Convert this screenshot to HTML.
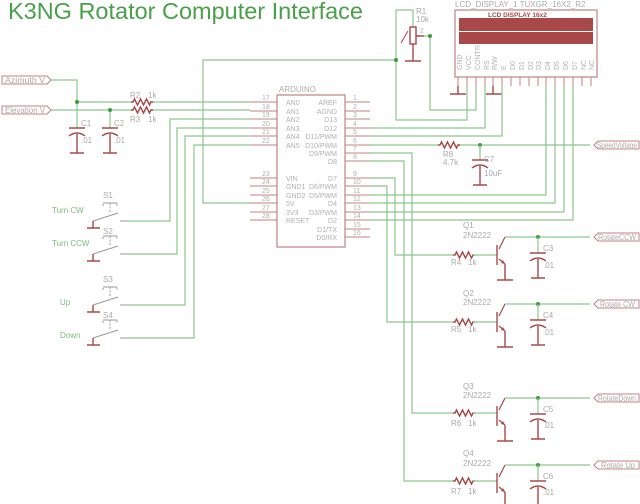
<!DOCTYPE html>
<html><head><meta charset="utf-8"><style>
html,body{margin:0;padding:0;background:#fff;width:640px;height:504px;overflow:hidden}
svg{display:block}
text{font-family:"Liberation Sans",sans-serif}
.w{stroke:#8cc68c;stroke-width:1.2;fill:none}
.r{stroke:#a84848;stroke-width:1.4;fill:none}
.g{fill:#aaaaaa;font-size:8px}
.gl{fill:#b0b0b0;font-size:7px}
.lab{fill:#7cba7c;font-size:8px}
.d{fill:#3c9a3c}
.sw{stroke:#999;stroke-width:1;fill:none}
</style></head><body>
<svg width="640" height="504" viewBox="0 0 640 504" xmlns="http://www.w3.org/2000/svg">
<defs>
<path id="res" d="M0,0 h2 l1.5,-3 l3,6 l3,-6 l3,6 l3,-6 l3,6 l1.5,-3 h2" class="r"/>
<g id="cap"><path class="r" d="M-8,0 h16 M-8,8 q8,-6 16,0 M0,6 v19 M-7,25 h14"/></g>
<g id="tr"><path class="r" d="M0,-10 v20"/><path d="M2,-6 L8,-18 M2,4 L8,9" stroke="#a84848" stroke-width="1.2"/><path d="M8,9 l-4,-1 l2,-3z" fill="#a84848"/><path class="r" d="M8,9 v16 M0,25 h16"/></g>
<g id="sw"><path class="sw" d="M-7,-15 v-3 h14 v3 M0,-18 v10" stroke-dasharray="2,1.5"/><path class="sw" d="M-7,-18 h14"/><path class="sw" d="M-17,0 l25,-8 M10,0 h7"/><path class="r" d="M-17,0 v7 M-23,7 h13"/></g>
</defs>
<text x="8" y="19" font-size="23" fill="#4aa04a" textLength="355" lengthAdjust="spacingAndGlyphs">K3NG Rotator Computer Interface</text>

<!-- Azimuth / Elevation -->
<path d="M2,76 h45 l4,4 l-4,4 h-45z" fill="#fff" stroke="#c08080" stroke-width="1"/>
<text x="5" y="83" class="g" textLength="40" lengthAdjust="spacingAndGlyphs">Azimuth V</text>
<path d="M2,106 h45 l4,4 l-4,4 h-45z" fill="#fff" stroke="#c08080" stroke-width="1"/>
<text x="5" y="113" class="g" textLength="40" lengthAdjust="spacingAndGlyphs">Elevation V</text>
<path class="w" d="M51,80 h26 v22 h56 M150,102 h100 M51,110 h82 M150,110 h100 M77,102 v26 M110,110 v18"/>
<circle cx="77" cy="102" r="2" class="d"/><circle cx="110" cy="110" r="2" class="d"/>
<use href="#res" x="131" y="102"/><use href="#res" x="131" y="110"/>
<text x="130" y="98" class="g">R2</text><text x="148" y="98" class="g">1k</text>
<text x="130" y="122" class="g">R3</text><text x="148" y="122" class="g">1k</text>
<use href="#cap" x="77" y="128"/><use href="#cap" x="110" y="128"/>
<text x="81" y="126" class="g">C1</text><text x="81" y="143" class="g">.01</text>
<text x="114" y="126" class="g">C2</text><text x="114" y="143" class="g">.01</text>

<!-- switches -->
<path class="w" d="M127,221 h43 v-102 h80 M127,254 h50 v-126 h73 M127,305 h58 v-169 h65 M127,338 h67 v-193 h56"/>
<use href="#sw" x="110" y="221"/><use href="#sw" x="110" y="254"/><use href="#sw" x="110" y="305"/><use href="#sw" x="110" y="338"/>
<text x="103" y="198" class="g">S1</text><text x="103" y="234" class="g">S2</text><text x="103" y="282" class="g">S3</text><text x="103" y="318" class="g">S4</text>
<text x="52" y="213" class="lab">Turn CW</text><text x="52" y="246" class="lab">Turn CCW</text>
<text x="60" y="305" class="lab">Up</text><text x="60" y="338" class="lab">Down</text>

<!-- 5V wire -->
<path class="w" d="M250,203 h-47 v-143 h193 v-50 h17 v17 M396,60 v60 h71 v-34"/>
<circle cx="396" cy="60" r="2" class="d"/>
<!-- pot -->
<rect x="410" y="27" width="6" height="17" class="r"/>
<path class="r" d="M413,44 v17 M405,61 h16 M416,36 h8"/>
<path d="M401,43 l7,-12" stroke="#a84848" stroke-width="1"/>
<text x="416" y="14" class="g">R1</text><text x="416" y="22" class="g">10k</text>
<text x="420" y="33" class="gl">2</text>
<path class="w" d="M424,36 h6 v74 h46 v-24"/><circle cx="430" cy="36" r="2" class="d"/>

<!-- Arduino -->
<rect x="277" y="95" width="68" height="152" fill="none" stroke="#c08080" stroke-width="1.2"/>
<text x="279" y="92" class="g">ARDUINO</text>
<g stroke="#c08080" stroke-width="1">
<path d="M250,102h27M250,111h27M250,119h27M250,128h27M250,136h27M250,145h27M250,178h27M250,186h27M250,195h27M250,203h27M250,212h27M250,220h27"/>
<path d="M345,102h25M345,111h25M345,119h25M345,128h25M345,136h25M345,145h25M345,153h25M345,161h25M345,178h25M345,186h25M345,195h25M345,203h25M345,212h25M345,220h25M345,229h25M345,237h25"/>
</g>
<g class="gl">
<text x="262" y="100">17</text><text x="262" y="109">18</text><text x="262" y="117">19</text><text x="262" y="126">20</text><text x="262" y="134">21</text><text x="262" y="143">22</text>
<text x="262" y="176">23</text><text x="262" y="184">24</text><text x="262" y="193">25</text><text x="262" y="201">26</text><text x="262" y="210">27</text><text x="262" y="218">28</text>
<text x="353" y="100">1</text><text x="353" y="109">2</text><text x="353" y="117">3</text><text x="353" y="126">4</text><text x="353" y="134">5</text><text x="353" y="143">6</text><text x="353" y="151">7</text><text x="353" y="159">8</text>
<text x="353" y="176">9</text><text x="353" y="184">10</text><text x="353" y="193">11</text><text x="353" y="201">12</text><text x="353" y="210">13</text><text x="353" y="218">14</text><text x="353" y="227">15</text><text x="353" y="235">16</text>
</g>
<g class="gl">
<text x="286" y="105">AN0</text><text x="286" y="114">AN1</text><text x="286" y="122">AN2</text><text x="286" y="131">AN3</text><text x="286" y="139">AN4</text><text x="286" y="148">AN5</text>
<text x="286" y="181">VIN</text><text x="286" y="189">GND1</text><text x="286" y="198">GND2</text><text x="286" y="206">5V</text><text x="286" y="215">3V3</text><text x="286" y="223">RESET</text>
</g>
<g class="gl" text-anchor="end">
<text x="337" y="105">AREF</text><text x="337" y="114">AGND</text><text x="337" y="122">D13</text><text x="337" y="131">D12</text><text x="337" y="139">D11/PWM</text><text x="337" y="148">D10/PWM</text><text x="337" y="156">D9/PWM</text><text x="337" y="164">D8</text>
<text x="337" y="181">D7</text><text x="337" y="189">D6/PWM</text><text x="337" y="198">D5/PWM</text><text x="337" y="206">D4</text><text x="337" y="215">D3/PWM</text><text x="337" y="223">D2</text><text x="337" y="232">D1/TX</text><text x="337" y="240">D0/RX</text>
</g>

<!-- LCD -->
<text x="455" y="7" class="g">LCD_DISPLAY_1 TUXGR_16X2_R2</text>
<rect x="455" y="10" width="142" height="67" fill="none" stroke="#c08080" stroke-width="1.2"/>
<text x="488" y="17" font-size="6.5" fill="#a84848" font-weight="bold">LCD DISPLAY 16x2</text>
<rect x="459" y="18" width="134" height="13" fill="#a84848"/>
<rect x="459" y="32" width="134" height="12" fill="#a84848"/>
<g class="gl" font-size="6">
<text transform="translate(462,70) rotate(-90)">GND</text><text transform="translate(471,70) rotate(-90)">VCC</text><text transform="translate(480,70) rotate(-90)">CONTR</text><text transform="translate(489,70) rotate(-90)">RS</text><text transform="translate(497,70) rotate(-90)">R/W</text><text transform="translate(506,70) rotate(-90)">E</text><text transform="translate(515,70) rotate(-90)">D0</text><text transform="translate(524,70) rotate(-90)">D1</text><text transform="translate(533,70) rotate(-90)">D2</text><text transform="translate(541,70) rotate(-90)">D3</text><text transform="translate(550,70) rotate(-90)">D4</text><text transform="translate(559,70) rotate(-90)">D5</text><text transform="translate(568,70) rotate(-90)">D6</text><text transform="translate(577,70) rotate(-90)">D7</text><text transform="translate(586,70) rotate(-90)">NC</text><text transform="translate(594,70) rotate(-90)">NC</text>
</g>
<g stroke="#c08080" stroke-width="1"><path d="M458,77v9M467,77v9M476,77v9M485,77v9M493,77v9M502,77v9M511,77v9M520,77v9M529,77v9M538,77v9M546,77v9M555,77v9M564,77v9M573,77v9M582,77v9M591,77v9"/></g>
<path class="r" d="M458,86v8 M450,94h16 M493,86v8 M486,94h16"/>
<path class="w" d="M485,86 v42 h-115 M502,86 v50 h-132 M546,86 v109 h-176 M555,86 v117 h-185 M564,86 v126 h-194 M573,86 v134 h-203"/>

<!-- speed voltage -->
<path class="w" d="M370,145 h68 M458,145 h132"/>
<use href="#res" x="438" y="145"/>
<circle cx="480" cy="145" r="2" class="d"/>
<path class="w" d="M480,145 v15"/>
<use href="#cap" x="480" y="160"/>
<text x="443" y="157" class="g">R8</text><text x="443" y="165" class="g">4.7k</text>
<text x="484" y="162" class="g">C7</text><text x="484" y="176" class="g">10uF</text>
<path d="M594,145 l4,-4 h41 v8 h-41z" fill="#fff" stroke="#c08080" stroke-width="1"/>
<text x="597" y="148" class="g" textLength="40" lengthAdjust="spacingAndGlyphs">SpeedVoltage</text>

<!-- transistor drive wires -->
<path class="w" d="M370,178 h25 v77 h58 M370,186 h17 v136 h66 M370,153 h42 v260 h41 M370,161 h34 v320 h49"/>

<!-- Q1..Q4 -->
<g>
<use href="#res" x="453" y="255"/><path class="w" d="M473,255h24"/><use href="#tr" x="497" y="255"/>
<path class="w" d="M505,237 h85"/><circle cx="538" cy="237" r="2" class="d"/><path class="w" d="M538,237v16"/><use href="#cap" x="538" y="253"/>
<text x="463" y="228" class="g">Q1</text><text x="463" y="238" class="g">2N2222</text>
<text x="451" y="265" class="g">R4</text><text x="468" y="265" class="g">1k</text>
<text x="543" y="251" class="g">C3</text><text x="543" y="268" class="g">.01</text>
<path d="M594,237 l4,-4 h41 v8 h-41z" fill="#fff" stroke="#c08080" stroke-width="1"/><text x="598" y="240" class="g" textLength="38" lengthAdjust="spacingAndGlyphs">RotateCCW</text>
</g>
<g>
<use href="#res" x="453" y="322"/><path class="w" d="M473,322h24"/><use href="#tr" x="497" y="322"/>
<path class="w" d="M505,304 h85"/><circle cx="538" cy="304" r="2" class="d"/><path class="w" d="M538,304v16"/><use href="#cap" x="538" y="320"/>
<text x="463" y="296" class="g">Q2</text><text x="463" y="305" class="g">2N2222</text>
<text x="451" y="332" class="g">R5</text><text x="468" y="332" class="g">1k</text>
<text x="543" y="318" class="g">C4</text><text x="543" y="335" class="g">.01</text>
<path d="M594,304 l4,-4 h41 v8 h-41z" fill="#fff" stroke="#c08080" stroke-width="1"/><text x="600" y="307" class="g" textLength="35" lengthAdjust="spacingAndGlyphs">Rotate CW</text>
</g>
<g>
<use href="#res" x="453" y="413"/><path class="w" d="M473,413h24"/><use href="#tr" x="497" y="416"/>
<path class="w" d="M505,398 h85"/><circle cx="538" cy="398" r="2" class="d"/><path class="w" d="M538,398v16"/><use href="#cap" x="538" y="414"/>
<text x="463" y="389" class="g">Q3</text><text x="463" y="398" class="g">2N2222</text>
<text x="451" y="426" class="g">R6</text><text x="468" y="426" class="g">1k</text>
<text x="543" y="412" class="g">C5</text><text x="543" y="428" class="g">.01</text>
<path d="M594,398 l4,-4 h41 v8 h-41z" fill="#fff" stroke="#c08080" stroke-width="1"/><text x="598" y="401" class="g" textLength="38" lengthAdjust="spacingAndGlyphs">RotateDown</text>
</g>
<g>
<use href="#res" x="453" y="481"/><path class="w" d="M473,481h24"/><use href="#tr" x="497" y="483"/>
<path class="w" d="M505,465 h85"/><circle cx="538" cy="465" r="2" class="d"/><path class="w" d="M538,465v16"/><use href="#cap" x="538" y="481"/>
<text x="463" y="456" class="g">Q4</text><text x="463" y="466" class="g">2N2222</text>
<text x="451" y="494" class="g">R7</text><text x="468" y="494" class="g">1k</text>
<text x="543" y="479" class="g">C6</text><text x="543" y="495" class="g">.01</text>
<path d="M594,465 l4,-4 h41 v8 h-41z" fill="#fff" stroke="#c08080" stroke-width="1"/><text x="601" y="468" class="g" textLength="34" lengthAdjust="spacingAndGlyphs">Rotate Up</text>
</g>
</svg>
</body></html>
